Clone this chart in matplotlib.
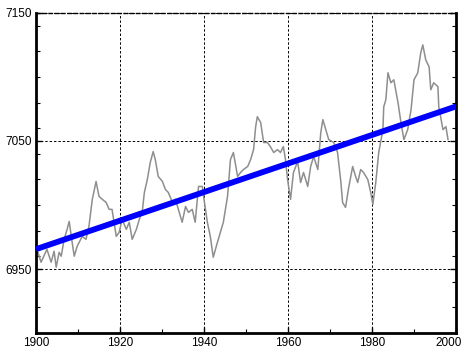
import numpy as np
import matplotlib
matplotlib.use("Agg")
import matplotlib.pyplot as plt
from matplotlib.ticker import MultipleLocator

plt.rcParams['font.family'] = ['Liberation Sans', 'DejaVu Sans']

# annual series (year, value)
years = [1900.0, 1901.2, 1902.6, 1903.6, 1904.3, 1904.8, 1905.5, 1906.0, 1906.7, 1907.4,
         1907.9, 1908.6, 1909.1, 1909.8, 1911.0, 1911.9, 1912.6, 1913.4, 1914.3, 1915.0,
         1915.8, 1916.7, 1917.4, 1918.1, 1919.1, 1919.8, 1920.5, 1921.5, 1922.2, 1922.9,
         1923.9, 1924.6, 1925.3, 1925.8, 1926.5, 1927.2, 1927.9, 1928.4, 1929.1, 1930.1,
         1930.8, 1931.5, 1932.5, 1933.2, 1933.9, 1934.8, 1935.6, 1936.3, 1937.2, 1937.9,
         1938.7, 1939.6, 1939.9, 1940.8, 1941.5, 1942.2, 1943.2, 1943.9, 1944.6, 1945.6,
         1946.3, 1947.0, 1948.0, 1948.7, 1949.4, 1950.4, 1951.1, 1951.8, 1952.3, 1952.7,
         1953.5, 1954.2, 1955.1, 1955.8, 1956.6, 1957.5, 1958.2, 1958.9, 1959.4, 1959.9,
         1960.6, 1961.3, 1962.3, 1963.0, 1963.7, 1964.7, 1965.4, 1966.1, 1967.1, 1967.8,
         1968.3, 1969.0, 1969.7, 1970.9, 1971.8, 1972.6, 1973.0, 1973.7, 1974.5, 1975.4,
         1976.1, 1976.6, 1977.3, 1978.0, 1979.0, 1979.7, 1980.2, 1980.9, 1981.6, 1982.6,
         1982.8, 1983.3, 1983.8, 1984.5, 1985.2, 1986.2, 1986.9, 1987.6, 1988.5, 1989.3,
         1990.0, 1990.9, 1991.6, 1992.1, 1992.8, 1993.6, 1994.0, 1994.7, 1995.7, 1995.9,
         1996.9, 1997.6, 1998.1]
values = [6967.8, 6955.3, 6965.4, 6955.3, 6963.9, 6951.4, 6963.1, 6960.0, 6973.2, 6981.0,
          6987.2, 6970.9, 6960.0, 6967.8, 6975.5, 6973.2, 6983.3, 7004.4, 7018.4, 7006.7,
          7004.4, 7002.0, 6996.6, 6996.6, 6975.5, 6978.7, 6988.8, 6981.0, 6986.5, 6973.2,
          6981.0, 6988.8, 6995.0, 7009.8, 7019.9, 7033.2, 7041.7, 7035.5, 7022.3, 7018.4,
          7012.2, 7009.8, 7002.0, 7004.4, 6996.6, 6986.5, 6998.9, 6994.2, 6996.6, 6986.5,
          7014.5, 7014.5, 7006.7, 6986.5, 6975.5, 6959.2, 6970.9, 6978.7, 6986.5, 7006.7,
          7035.5, 7041.0, 7022.3, 7025.4, 7027.7, 7030.1, 7035.5, 7043.3, 7061.2, 7069.0,
          7064.3, 7048.8, 7048.8, 7045.6, 7041.0, 7043.3, 7041.0, 7045.6, 7035.5, 7019.9,
          7004.4, 7025.4, 7034.0, 7017.6, 7025.4, 7014.5, 7030.1, 7037.9, 7027.7, 7056.5,
          7066.7, 7058.9, 7051.1, 7048.8, 7041.0, 7017.6, 7002.0, 6998.1, 7014.5, 7030.1,
          7022.3, 7017.6, 7027.7, 7025.4, 7019.9, 7009.8, 7000.5, 7017.6, 7041.0, 7058.9,
          7076.8, 7082.2, 7103.3, 7095.5, 7097.8, 7079.9, 7064.3, 7051.1, 7058.9, 7074.5,
          7097.8, 7103.3, 7118.8, 7125.1, 7113.4, 7107.9, 7090.0, 7095.5, 7092.4, 7076.8,
          7058.9, 7061.2, 7051.1]

# linear trend
trend_years = [1900, 2000]
trend_values = [6965.5, 7077.0]

xticks = [1900, 1920, 1940, 1960, 1980, 2000]
yticks = [6950, 7050, 7150]

fig = plt.figure(figsize=(4.66, 3.49), dpi=100)
ax = fig.add_axes([0.0773, 0.0458, 0.9012, 0.917])

ax.plot(years, values, color='#8e8e8e', linewidth=1.1, zorder=2)
ax.plot(trend_years, trend_values, color='#0000ff', linewidth=4.2,
        solid_capstyle='butt', zorder=3)

ax.set_xlim(1900, 2000)
ax.set_ylim(6900, 7150)
# last year label is drawn separately, pulled in from the right edge
ax.set_xticks(xticks, [str(t) for t in xticks[:-1]] + [''])
ax.xaxis.set_minor_locator(MultipleLocator(10))
ax.set_yticks(yticks)
ax.yaxis.set_minor_locator(MultipleLocator(20))
ax.annotate(str(xticks[-1]), xy=(xticks[-1], 0), xycoords=('data', 'axes fraction'),
            xytext=(-5, -3), textcoords='offset points',
            ha='center', va='top', fontsize=8.5)

ax.grid(True, which='major', color='black', linestyle=(0, (2.5, 2)), linewidth=0.7)
ax.set_axisbelow(True)

ax.tick_params(which='both', direction='in', labelsize=8.5, pad=3,
               top=False, right=True)
ax.tick_params(which='major', length=4, width=1)
ax.tick_params(which='minor', length=3, width=0.8)

for side in ['left', 'bottom', 'right']:
    ax.spines[side].set_linewidth(2)
    ax.spines[side].set_color('black')
ax.spines['top'].set_linestyle((0, (2.5, 2)))
ax.spines['top'].set_linewidth(1)

fig.savefig('out.png', dpi=100)
